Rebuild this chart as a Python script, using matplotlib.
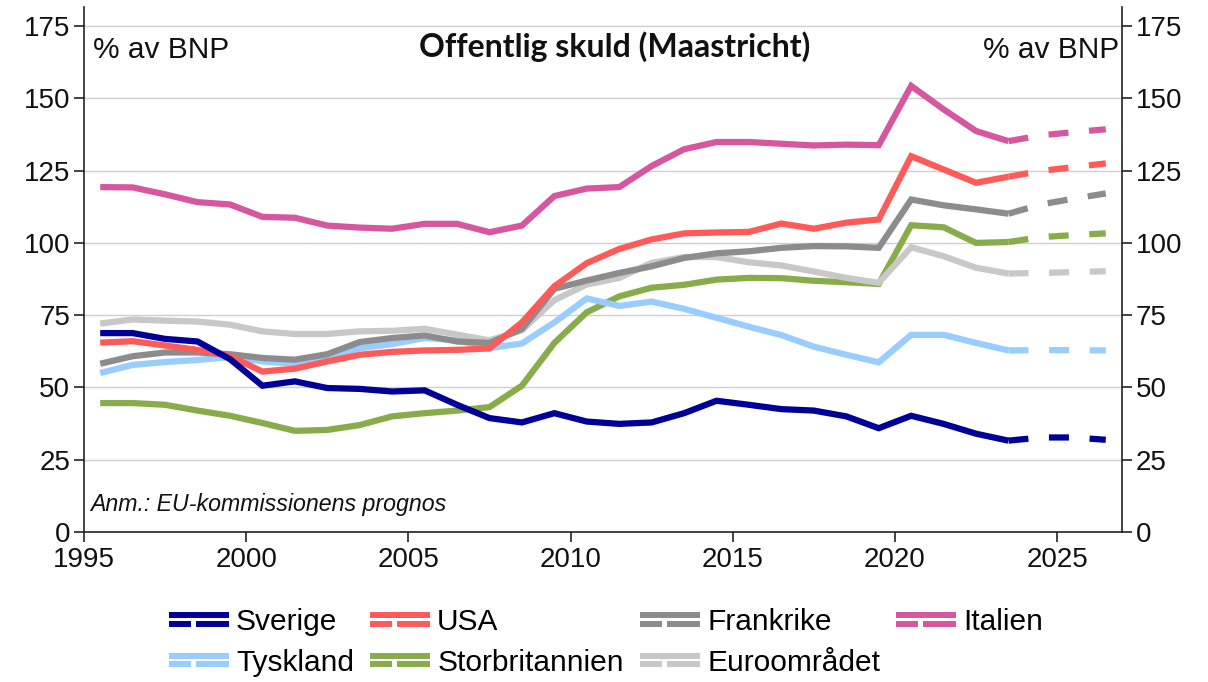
import matplotlib
matplotlib.use("Agg")
import matplotlib.pyplot as plt
from matplotlib.lines import Line2D
from matplotlib.legend_handler import HandlerBase

years = list(range(1995, 2024))
fc_years = [2023, 2024, 2025, 2026]

sverige = [68.8, 68.8, 66.8, 65.9, 59.8, 50.6, 52.1, 49.8, 49.5, 48.6, 49.0, 44.0, 39.4, 37.9,
           41.1, 38.2, 37.4, 37.9, 41.1, 45.4, 44.0, 42.5, 42.0, 40.0, 35.9, 40.2, 37.4, 34.0, 31.6]
sverige_fc = [31.6, 32.7, 32.7, 31.9]

usa = [65.5, 66.0, 64.5, 63.0, 60.8, 55.5, 56.5, 59.0, 61.3, 62.3, 62.8, 63.0, 63.5, 72.5,
       85.0, 93.0, 97.9, 101.2, 103.3, 103.6, 103.8, 106.7, 104.9, 107.0, 108.1, 130.0, 125.4, 120.8, 122.9]
usa_fc = [122.9, 124.9, 126.2, 127.5]

frankrike = [58.2, 60.8, 62.1, 62.1, 61.5, 60.2, 59.6, 61.5, 65.7, 67.1, 68.0, 65.9, 65.4, 70.2,
             84.1, 87.0, 89.6, 91.9, 94.8, 96.4, 97.1, 98.3, 98.9, 98.8, 98.3, 115.0, 113.0, 111.6, 110.1]
frankrike_fc = [110.1, 113.3, 115.3, 117.1]

italien = [119.3, 119.2, 116.8, 114.1, 113.3, 109.0, 108.7, 106.0, 105.3, 104.9, 106.6, 106.6, 103.7, 106.0,
           116.2, 118.8, 119.3, 126.6, 132.4, 134.9, 134.9, 134.3, 133.7, 134.0, 133.8, 154.3, 146.2, 138.7, 135.2]
italien_fc = [135.2, 137.2, 138.3, 139.3]

tyskland = [55.0, 57.8, 58.8, 59.5, 60.5, 59.0, 58.2, 60.3, 63.6, 65.0, 67.1, 66.3, 63.6, 65.2,
            72.5, 80.8, 78.2, 79.7, 77.2, 74.1, 71.0, 68.1, 64.1, 61.3, 58.7, 68.2, 68.2, 65.4, 62.8]
tyskland_fc = [62.8, 62.9, 62.9, 62.8]

storbritannien = [44.6, 44.6, 44.0, 42.0, 40.2, 37.7, 35.0, 35.3, 37.0, 40.0, 41.1, 42.0, 43.2, 50.6,
                  65.4, 76.0, 81.5, 84.5, 85.5, 87.3, 87.9, 87.8, 86.9, 86.4, 85.8, 106.1, 105.4, 100.0, 100.3]
storbritannien_fc = [100.3, 102.0, 102.7, 103.3]

euro = [72.1, 73.5, 73.1, 72.8, 71.7, 69.4, 68.5, 68.5, 69.4, 69.6, 70.3, 68.3, 66.3, 69.8,
        80.2, 85.6, 87.9, 93.1, 95.1, 95.1, 93.3, 92.2, 90.1, 87.9, 86.2, 98.5, 95.4, 91.4, 89.4]
euro_fc = [89.4, 89.6, 89.9, 90.2]

series = [
    ("Sverige", sverige, sverige_fc, "#000099"),
    ("USA", usa, usa_fc, "#FF5A5A"),
    ("Frankrike", frankrike, frankrike_fc, "#8C8C8C"),
    ("Italien", italien, italien_fc, "#D656A0"),
    ("Tyskland", tyskland, tyskland_fc, "#99CCFF"),
    ("Storbritannien", storbritannien, storbritannien_fc, "#88AC4A"),
    ("Euroområdet", euro, euro_fc, "#C8C8C8"),
]
legend_order = ["Sverige", "Tyskland", "USA", "Storbritannien", "Frankrike", "Euroområdet", "Italien"]

yticks = [0, 25, 50, 75, 100, 125, 150, 175]
xticks = [1995, 2000, 2005, 2010, 2015, 2020, 2025]

plt.rcParams['font.family'] = ['Liberation Sans', 'DejaVu Sans']

fig = plt.figure(figsize=(12.08, 6.82), dpi=100)
ax = fig.add_axes([84/1208, 150/682, (1122-84)/1208, (532-7)/682])

lw = 4.5
draw_order = ["Storbritannien", "Tyskland", "Euroområdet", "Frankrike", "USA", "Italien", "Sverige"]
handles = {}
for name, vals, fc, col in series:
    z = 3 + draw_order.index(name)
    xs = [y + 0.5 for y in years]
    xf = [y + 0.5 for y in fc_years]
    ln, = ax.plot(xs, vals, color=col, lw=lw, solid_capstyle='butt', solid_joinstyle='miter', zorder=z)
    ax.plot(xf, fc, color=col, lw=lw, dashes=(3.2, 3.3), dash_capstyle='butt', zorder=z)
    handles[name] = ln

ax.set_xlim(1995, 2027)
ax.set_ylim(0, 181.6)
ax.set_xticks(xticks)
ax.set_yticks(yticks)
ax.yaxis.grid(True, color="#CFCFCF", lw=1.0)
ax.set_axisbelow(True)
ax.spines['top'].set_visible(False)
for s in ['left', 'right', 'bottom']:
    ax.spines[s].set_color('#222222')
    ax.spines[s].set_linewidth(1.2)
ax.tick_params(axis='both', direction='out', length=7, width=1.2, color='#222222',
               labelsize=20, labelcolor='#111111')
ax.tick_params(axis='y', right=True, labelright=True, pad=3)
ax.tick_params(axis='x', pad=4)

ax.text((93-84)/1038, (532-50)/525, "% av BNP", transform=ax.transAxes,
        fontsize=21.5, ha='left', va='center', color='#111111')
ax.text(1.0 - 3/1038, (532-50)/525, "% av BNP", transform=ax.transAxes,
        fontsize=21.5, ha='right', va='center', color='#111111')
fig.text(615/1208, 1 - 47/682, "Offentlig skuld (Maastricht)", fontsize=23, fontweight='bold',
         family=['Lato', 'DejaVu Sans'], ha='center', va='center', color='#111111')
ax.text((90-84)/1038, (532-505)/525, "Anm.: EU-kommissionens prognos", transform=ax.transAxes,
        fontsize=16.7, style='italic', ha='left', va='center', color='#111111')


class TwoLine(HandlerBase):
    def create_artists(self, legend, orig_handle, xdescent, ydescent, width, height, fontsize, trans):
        col = orig_handle.get_color()
        x0 = -xdescent
        x1 = width - xdescent
        yc = height / 2 - ydescent
        off = 0.2 * height
        l1 = Line2D([x0, x1], [yc + off, yc + off], color=col, lw=4.3, solid_capstyle='butt')
        l2 = Line2D([x0, x0 + 0.36 * width], [yc - off, yc - off], color=col, lw=4.3, solid_capstyle='butt')
        l3 = Line2D([x0 + 0.45 * width, x1], [yc - off, yc - off], color=col, lw=4.3, solid_capstyle='butt')
        for l in (l1, l2, l3):
            l.set_transform(trans)
        return [l1, l2, l3]


hl = [handles[n] for n in legend_order]
leg = fig.legend(hl, legend_order, ncol=4, loc='upper left', bbox_to_anchor=(169/1208, 1 - 608/682),
                 frameon=False, fontsize=21.5, handler_map={Line2D: TwoLine()},
                 handlelength=2.0, handletextpad=0.24, columnspacing=0.55, borderpad=0,
                 borderaxespad=0, labelspacing=0.42)

fig.savefig("out.png", dpi=100)
